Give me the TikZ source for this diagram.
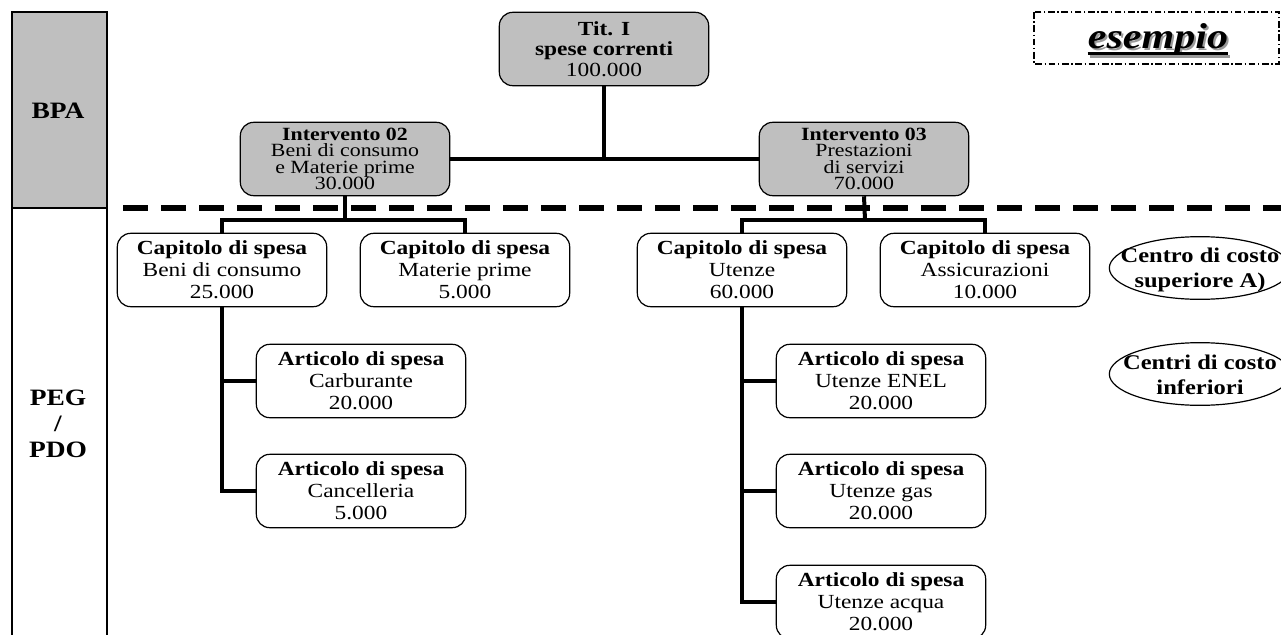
\documentclass[tikz,border=0pt]{standalone}
\usepackage{fontspec}
\setmainfont{Liberation Serif}[
  UprightFeatures={FakeStretch=1.17},
  BoldFeatures={FakeStretch=1.17},
  ItalicFeatures={FakeStretch=1.17},
  BoldItalicFeatures={FakeStretch=1.17}]
\usepackage{tikz}
\usetikzlibrary{positioning,calc}
\definecolor{boxgrey}{HTML}{BFBFBF}
\definecolor{shadowgrey}{HTML}{9A9A9A}
\tikzset{
    every picture/.style={line join=miter},
    capbox/.style={draw=black,fill=white,line width=0.9pt,rounded corners=10pt,
      minimum width=157pt,minimum height=55pt,inner sep=0pt,
      font=\fontsize{15}{16.5}\selectfont,align=center},
    intbox/.style={capbox,fill=boxgrey,font=\fontsize{14}{12.4}\selectfont},
    titbox/.style={capbox,fill=boxgrey,font=\fontsize{15}{15.5}\selectfont},
    link/.style={draw=black,line width=3pt},
    sidelabel/.style={font=\fontsize{17.6}{19.5}\selectfont\bfseries,align=center},
    centrolabel/.style={font=\fontsize{15.7}{18.8}\selectfont\bfseries,align=center,inner sep=0pt},
    ellipseline/.style={draw=black,line width=0.9pt}
}

\begin{document}
\begin{tikzpicture}[x=0.75pt,y=-0.75pt]
  \useasboundingbox (0,0) rectangle (1281,635);
  \clip (0,0) rectangle (1281,635);
  % colonna di sinistra
  \fill[boxgrey] (12,12) rectangle (107,208);
  \draw[line width=1pt] (12,640) -- (12,12) -- (107,12) -- (107,640);
  \draw[line width=1pt] (12,208) -- (107,208);
  \node[sidelabel] (bpa) at (58,111) {BPA};
  \node[sidelabel] (pegpdo) at (58,424) {PEG\\/\\PDO};
  \draw[line width=4.5pt,dash pattern=on 19pt off 9.5pt] (123,208) -- (1295,208);

  % BPA
  \node[titbox] (tit) at (604,49) {\textbf{Tit. I}\\\textbf{spese correnti}\\100.000};
  \node[intbox] (int02) at (345,159) {\textbf{Intervento 02}\\Beni di consumo\\e Materie prime\\30.000};
  \node[intbox] (int03) at (864,159) {\textbf{Intervento 03}\\Prestazioni\\di servizi\\70.000};
  \draw[link] (int02.east) -- (int03.west);
  \draw[link] (tit.south) -- (tit.south |- int02.east);

  % PEG / PDO
  \node[capbox] (capbeni) at (222,270) {\textbf{Capitolo di spesa}\\Beni di consumo\\25.000};
  \node[capbox] (capmat) at (465,270) {\textbf{Capitolo di spesa}\\Materie prime\\5.000};
  \node[capbox] (caput) at (742,270) {\textbf{Capitolo di spesa}\\Utenze\\60.000};
  \node[capbox] (capass) at (985,270) {\textbf{Capitolo di spesa}\\Assicurazioni\\10.000};
  \coordinate (jleft) at (345,220);
  \coordinate (jright) at (865,220);
  \draw[link] (int02.south) -- (jleft);
  \draw[link] (capbeni.north) |- (jleft) -| (capmat.north);
  \draw[link] (int03.south) -- (jright);
  \draw[link] (caput.north) |- (jright) -| (capass.north);

  \node[capbox] (artcarb) at (361,381) {\textbf{Articolo di spesa}\\Carburante\\20.000};
  \node[capbox] (artcanc) at (361,491) {\textbf{Articolo di spesa}\\Cancelleria\\5.000};
  \node[capbox] (artenel) at (881,381) {\textbf{Articolo di spesa}\\Utenze ENEL\\20.000};
  \node[capbox] (artgas) at (881,491) {\textbf{Articolo di spesa}\\Utenze gas\\20.000};
  \node[capbox] (artacqua) at (881,602) {\textbf{Articolo di spesa}\\Utenze acqua\\20.000};
  \draw[link] (capbeni.south) |- (artcanc.west);
  \draw[link] (capbeni.south |- artcarb.west) -- (artcarb.west);
  \draw[link] (caput.south) |- (artacqua.west);
  \foreach \a in {artenel,artgas}
    \draw[link] (caput.south |- \a.west) -- (\a.west);

  % centri di costo
  \node[centrolabel] (centrosup) at (1200,270) {Centro di costo\\superiore A)};
  \draw[ellipseline] (1200,268) ellipse [x radius=68pt,y radius=23.5pt];
  \node[centrolabel] (centriinf) at (1200,375) {Centri di costo\\inferiori};
  \draw[ellipseline] (1200,374) ellipse [x radius=68pt,y radius=23.5pt];

  % esempio
  \draw[line width=0.8pt,dash pattern=on 5pt off 2pt on 1pt off 2pt] (1034,12) rectangle (1279,64);
  \node[inner sep=0pt,text=shadowgrey,font=\fontsize{27}{30}\selectfont\bfseries\itshape]
    (esempioshadow) at (1160,42) {esempio};
  \node[inner sep=0pt,font=\fontsize{27}{30}\selectfont\bfseries\itshape]
    (esempio) at (1158,40) {esempio};
  \draw[shadowgrey,line width=2.4pt] ($(esempioshadow.base west)+(0,6)$) -- ($(esempioshadow.base east)+(0,6)$);
  \draw[line width=2.4pt] ($(esempio.base west)+(0,5)$) -- ($(esempio.base east)+(0,5)$);
\end{tikzpicture}
\end{document}
